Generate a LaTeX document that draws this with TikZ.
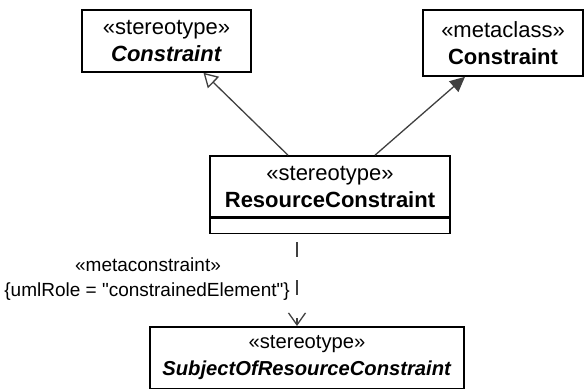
\documentclass[tikz,border=0pt]{standalone}
\usepackage{fontspec}
\setmainfont{Liberation Sans}[Ligatures=TeXOff]
\usetikzlibrary{arrows.meta,positioning}

\begin{document}
\begin{tikzpicture}[x=1pt,y=1pt,
	every node/.style={font=\fontsize{22}{27}\selectfont},
	cls/.style={draw,line width=1.6pt,align=center,inner sep=0pt},
	conn/.style={draw=black!75,line width=1.3pt},
	lbl/.style={inner sep=0pt,font=\fontsize{19}{23}\selectfont}]
	\useasboundingbox (0,0) rectangle (585,388);

	\node[cls,minimum width=169,minimum height=62] (cA) at (166.5,347) {«stereotype»\\\textbf{\textit{Constraint}}};
	\node[cls,minimum width=160,minimum height=66] (mc) at (503,345) {«metaclass»\\\textbf{Constraint}};
	\node[cls,minimum width=240,minimum height=61] (rc) at (330,201.5) {«stereotype»\\\textbf{ResourceConstraint}};
	\node[cls,minimum width=240,minimum height=15,below=0pt of rc] (rcOps) {};
	\node[cls,minimum width=314,minimum height=62,anchor=north,font=\fontsize{20.2}{27}\selectfont] (subj) at (307,62) {«stereotype»\\\textbf{\textit{SubjectOfResourceConstraint}}};

	% labels of the dependency
	\node[lbl,anchor=east] (roleLbl) at (290,96) {\{umlRole = "constrainedElement"\}};
	\node[lbl] (metaLbl) at (148,123) {«metaconstraint»};

	\draw[conn,-{Triangle[open,length=14pt,width=16pt]}] ([xshift=-42pt]rc.north) -- ([xshift=37pt]cA.south);
	\draw[conn,-{Triangle[length=15pt,width=14pt]}] ([xshift=45pt]rc.north) -- ([xshift=-38pt]mc.south);
	\draw[conn,dash pattern=on 15pt off 23pt,dash phase=30pt,-{Straight Barb[length=12pt,width=17pt]}] ([xshift=-33pt]rcOps.south) -- ([xshift=-10pt]subj.north);
\end{tikzpicture}
\end{document}
